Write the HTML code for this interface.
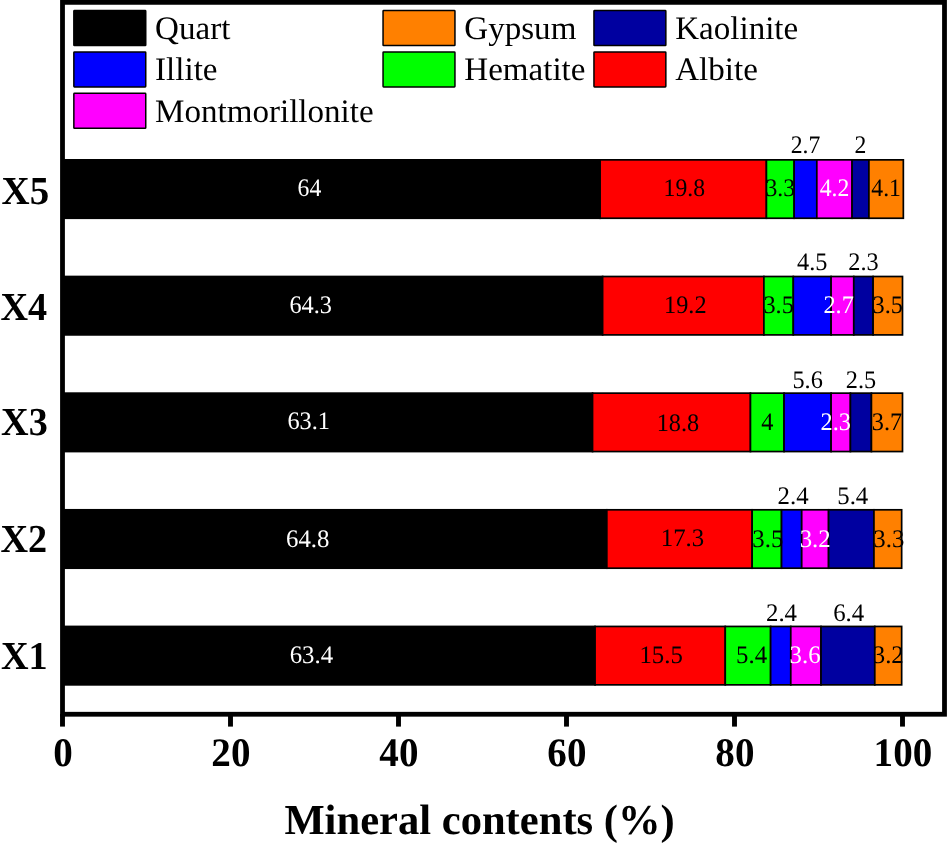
<!DOCTYPE html>
<html><head><meta charset="utf-8"><title>Mineral contents</title>
<style>html,body{margin:0;padding:0;background:#fff}body{width:947px;height:843px;overflow:hidden}svg{display:block;will-change:transform}text{font-family:"Liberation Serif","Times New Roman",serif;text-rendering:geometricPrecision}.b{font-weight:bold}</style></head><body>
<svg width="947" height="843" viewBox="0 0 947 843">
<rect x="0" y="0" width="947" height="843" fill="#fff"/>
<rect x="62.50" y="159.85" width="537.60" height="58.40" fill="#000000" stroke="#000" stroke-width="1.70"/>
<rect x="600.10" y="159.85" width="166.32" height="58.40" fill="#FF0000" stroke="#000" stroke-width="1.70"/>
<rect x="766.42" y="159.85" width="27.72" height="58.40" fill="#00FF00" stroke="#000" stroke-width="1.70"/>
<rect x="794.14" y="159.85" width="22.68" height="58.40" fill="#0000FF" stroke="#000" stroke-width="1.70"/>
<rect x="816.82" y="159.85" width="35.28" height="58.40" fill="#FF00FF" stroke="#000" stroke-width="1.70"/>
<rect x="852.10" y="159.85" width="16.80" height="58.40" fill="#0000A0" stroke="#000" stroke-width="1.70"/>
<rect x="868.90" y="159.85" width="34.44" height="58.40" fill="#FF8000" stroke="#000" stroke-width="1.70"/>
<text transform="translate(309.46 196.30) scale(0.9400 1)" font-size="25.20" text-anchor="middle" fill="#fff">64</text>
<text transform="translate(684.26 196.30) scale(0.9400 1)" font-size="25.20" text-anchor="middle" fill="#000">19.8</text>
<text transform="translate(780.28 196.30) scale(0.9400 1)" font-size="25.20" text-anchor="middle" fill="#000">3.3</text>
<text transform="translate(805.48 153.05) scale(0.9400 1)" font-size="25.20" text-anchor="middle" fill="#000">2.7</text>
<text transform="translate(834.46 196.30) scale(0.9400 1)" font-size="25.20" text-anchor="middle" fill="#fff">4.2</text>
<text transform="translate(860.50 153.05) scale(0.9400 1)" font-size="25.20" text-anchor="middle" fill="#000">2</text>
<text transform="translate(886.12 196.30) scale(0.9400 1)" font-size="25.20" text-anchor="middle" fill="#000">4.1</text>
<text transform="translate(49.10 203.95) scale(0.9830 1)" font-size="39.60" class="b" text-anchor="end">X5</text>
<rect x="62.50" y="276.50" width="540.12" height="58.40" fill="#000000" stroke="#000" stroke-width="1.70"/>
<rect x="602.62" y="276.50" width="161.28" height="58.40" fill="#FF0000" stroke="#000" stroke-width="1.70"/>
<rect x="763.90" y="276.50" width="29.40" height="58.40" fill="#00FF00" stroke="#000" stroke-width="1.70"/>
<rect x="793.30" y="276.50" width="37.80" height="58.40" fill="#0000FF" stroke="#000" stroke-width="1.70"/>
<rect x="831.10" y="276.50" width="22.68" height="58.40" fill="#FF00FF" stroke="#000" stroke-width="1.70"/>
<rect x="853.78" y="276.50" width="19.32" height="58.40" fill="#0000A0" stroke="#000" stroke-width="1.70"/>
<rect x="873.10" y="276.50" width="29.40" height="58.40" fill="#FF8000" stroke="#000" stroke-width="1.70"/>
<text transform="translate(310.72 312.95) scale(0.9650 1)" font-size="25.20" text-anchor="middle" fill="#fff">64.3</text>
<text transform="translate(685.26 312.95) scale(0.9650 1)" font-size="25.20" text-anchor="middle" fill="#000">19.2</text>
<text transform="translate(778.60 312.95) scale(0.9650 1)" font-size="25.20" text-anchor="middle" fill="#000">3.5</text>
<text transform="translate(812.20 269.70) scale(0.9650 1)" font-size="25.20" text-anchor="middle" fill="#000">4.5</text>
<text transform="translate(838.64 312.95) scale(0.9650 1)" font-size="25.20" text-anchor="middle" fill="#fff">2.7</text>
<text transform="translate(863.44 269.70) scale(0.9650 1)" font-size="25.20" text-anchor="middle" fill="#000">2.3</text>
<text transform="translate(887.80 312.95) scale(0.9650 1)" font-size="25.20" text-anchor="middle" fill="#000">3.5</text>
<text transform="translate(47.10 319.90) scale(0.9650 1)" font-size="39.60" class="b" text-anchor="end">X4</text>
<rect x="62.50" y="393.15" width="530.04" height="58.40" fill="#000000" stroke="#000" stroke-width="1.70"/>
<rect x="592.54" y="393.15" width="157.92" height="58.40" fill="#FF0000" stroke="#000" stroke-width="1.70"/>
<rect x="750.46" y="393.15" width="33.60" height="58.40" fill="#00FF00" stroke="#000" stroke-width="1.70"/>
<rect x="784.06" y="393.15" width="47.04" height="58.40" fill="#0000FF" stroke="#000" stroke-width="1.70"/>
<rect x="831.10" y="393.15" width="19.32" height="58.40" fill="#FF00FF" stroke="#000" stroke-width="1.70"/>
<rect x="850.42" y="393.15" width="21.00" height="58.40" fill="#0000A0" stroke="#000" stroke-width="1.70"/>
<rect x="871.42" y="393.15" width="31.08" height="58.40" fill="#FF8000" stroke="#000" stroke-width="1.70"/>
<text transform="translate(308.68 428.80) scale(0.9650 1)" font-size="25.20" text-anchor="middle" fill="#fff">63.1</text>
<text transform="translate(677.90 430.90) scale(0.9650 1)" font-size="25.20" text-anchor="middle" fill="#000">18.8</text>
<text transform="translate(767.26 429.60) scale(0.9650 1)" font-size="25.20" text-anchor="middle" fill="#000">4</text>
<text transform="translate(807.58 387.55) scale(0.9650 1)" font-size="25.20" text-anchor="middle" fill="#000">5.6</text>
<text transform="translate(835.76 429.60) scale(0.9650 1)" font-size="25.20" text-anchor="middle" fill="#fff">2.3</text>
<text transform="translate(860.92 387.55) scale(0.9650 1)" font-size="25.20" text-anchor="middle" fill="#000">2.5</text>
<text transform="translate(886.96 429.60) scale(0.9650 1)" font-size="25.20" text-anchor="middle" fill="#000">3.7</text>
<text transform="translate(47.80 435.15) scale(0.9650 1)" font-size="39.60" class="b" text-anchor="end">X3</text>
<rect x="62.50" y="509.80" width="544.32" height="58.40" fill="#000000" stroke="#000" stroke-width="1.70"/>
<rect x="606.82" y="509.80" width="145.32" height="58.40" fill="#FF0000" stroke="#000" stroke-width="1.70"/>
<rect x="752.14" y="509.80" width="29.40" height="58.40" fill="#00FF00" stroke="#000" stroke-width="1.70"/>
<rect x="781.54" y="509.80" width="20.16" height="58.40" fill="#0000FF" stroke="#000" stroke-width="1.70"/>
<rect x="801.70" y="509.80" width="26.88" height="58.40" fill="#FF00FF" stroke="#000" stroke-width="1.70"/>
<rect x="828.58" y="509.80" width="45.36" height="58.40" fill="#0000A0" stroke="#000" stroke-width="1.70"/>
<rect x="873.94" y="509.80" width="27.72" height="58.40" fill="#FF8000" stroke="#000" stroke-width="1.70"/>
<text transform="translate(307.72 547.25) scale(0.9850 1)" font-size="25.20" text-anchor="middle" fill="#fff">64.8</text>
<text transform="translate(682.48 545.75) scale(0.9850 1)" font-size="25.20" text-anchor="middle" fill="#000">17.3</text>
<text transform="translate(767.84 547.25) scale(0.9850 1)" font-size="25.20" text-anchor="middle" fill="#000">3.5</text>
<text transform="translate(793.12 504.00) scale(0.9850 1)" font-size="25.20" text-anchor="middle" fill="#000">2.4</text>
<text transform="translate(815.14 547.25) scale(0.9850 1)" font-size="25.20" text-anchor="middle" fill="#fff">3.2</text>
<text transform="translate(852.76 504.00) scale(0.9850 1)" font-size="25.20" text-anchor="middle" fill="#000">5.4</text>
<text transform="translate(888.80 547.25) scale(0.9850 1)" font-size="25.20" text-anchor="middle" fill="#000">3.3</text>
<text transform="translate(47.20 552.00) scale(0.9650 1)" font-size="39.60" class="b" text-anchor="end">X2</text>
<rect x="62.50" y="626.45" width="532.56" height="58.40" fill="#000000" stroke="#000" stroke-width="1.70"/>
<rect x="595.06" y="626.45" width="130.20" height="58.40" fill="#FF0000" stroke="#000" stroke-width="1.70"/>
<rect x="725.26" y="626.45" width="45.36" height="58.40" fill="#00FF00" stroke="#000" stroke-width="1.70"/>
<rect x="770.62" y="626.45" width="20.16" height="58.40" fill="#0000FF" stroke="#000" stroke-width="1.70"/>
<rect x="790.78" y="626.45" width="30.24" height="58.40" fill="#FF00FF" stroke="#000" stroke-width="1.70"/>
<rect x="821.02" y="626.45" width="53.76" height="58.40" fill="#0000A0" stroke="#000" stroke-width="1.70"/>
<rect x="874.78" y="626.45" width="26.88" height="58.40" fill="#FF8000" stroke="#000" stroke-width="1.70"/>
<text transform="translate(311.34 663.40) scale(0.9850 1)" font-size="25.20" text-anchor="middle" fill="#fff">63.4</text>
<text transform="translate(661.16 663.40) scale(0.9850 1)" font-size="25.20" text-anchor="middle" fill="#000">15.5</text>
<text transform="translate(751.54 663.40) scale(0.9850 1)" font-size="25.20" text-anchor="middle" fill="#000">5.4</text>
<text transform="translate(781.50 620.95) scale(0.9850 1)" font-size="25.20" text-anchor="middle" fill="#000">2.4</text>
<text transform="translate(805.10 663.40) scale(0.9850 1)" font-size="25.20" text-anchor="middle" fill="#fff">3.6</text>
<text transform="translate(848.70 620.95) scale(0.9850 1)" font-size="25.20" text-anchor="middle" fill="#000">6.4</text>
<text transform="translate(888.22 663.40) scale(0.9850 1)" font-size="25.20" text-anchor="middle" fill="#000">3.2</text>
<text transform="translate(47.60 669.35) scale(0.9650 1)" font-size="39.60" class="b" text-anchor="end">X1</text>
<rect x="62.5" y="2.35" width="882" height="711.9" fill="none" stroke="#000" stroke-width="4.8"/>
<rect x="60.05" y="714" width="4.9" height="12.6" fill="#000"/>
<text transform="translate(62.90 765.90) scale(0.9650 1)" font-size="40.50" class="b" text-anchor="middle">0</text>
<rect x="228.05" y="714" width="4.9" height="12.6" fill="#000"/>
<text transform="translate(230.90 765.90) scale(0.9650 1)" font-size="40.50" class="b" text-anchor="middle">20</text>
<rect x="396.05" y="714" width="4.9" height="12.6" fill="#000"/>
<text transform="translate(398.90 765.90) scale(0.9650 1)" font-size="40.50" class="b" text-anchor="middle">40</text>
<rect x="564.05" y="714" width="4.9" height="12.6" fill="#000"/>
<text transform="translate(566.90 765.90) scale(0.9650 1)" font-size="40.50" class="b" text-anchor="middle">60</text>
<rect x="732.05" y="714" width="4.9" height="12.6" fill="#000"/>
<text transform="translate(734.90 765.90) scale(0.9650 1)" font-size="40.50" class="b" text-anchor="middle">80</text>
<rect x="900.05" y="714" width="4.9" height="12.6" fill="#000"/>
<text transform="translate(902.90 765.90) scale(0.9650 1)" font-size="40.50" class="b" text-anchor="middle">100</text>
<text x="479.60" y="833.70" font-size="42.60" class="b" text-anchor="middle">Mineral contents (%)</text>
<rect x="73.85" y="10.55" width="71.9" height="35.0" rx="0.6" fill="#000000" stroke="#000" stroke-width="1.5"/>
<text transform="translate(155.10 39.00) scale(1.0080 1)" font-size="32.80">Quart</text>
<rect x="383.05" y="10.55" width="71.9" height="35.0" rx="0.6" fill="#FF8000" stroke="#000" stroke-width="1.5"/>
<text transform="translate(464.30 39.00) scale(1.0080 1)" font-size="32.80">Gypsum</text>
<rect x="593.95" y="10.55" width="71.9" height="35.0" rx="0.6" fill="#0000A0" stroke="#000" stroke-width="1.5"/>
<text transform="translate(675.20 39.00) scale(1.0080 1)" font-size="32.80">Kaolinite</text>
<rect x="73.85" y="51.95" width="71.9" height="35.0" rx="0.6" fill="#0000FF" stroke="#000" stroke-width="1.5"/>
<text transform="translate(155.10 80.40) scale(1.0080 1)" font-size="32.80">Illite</text>
<rect x="383.05" y="51.95" width="71.9" height="35.0" rx="0.6" fill="#00FF00" stroke="#000" stroke-width="1.5"/>
<text transform="translate(464.30 80.40) scale(1.0080 1)" font-size="32.80">Hematite</text>
<rect x="593.95" y="51.95" width="71.9" height="35.0" rx="0.6" fill="#FF0000" stroke="#000" stroke-width="1.5"/>
<text transform="translate(675.20 80.40) scale(1.0080 1)" font-size="32.80">Albite</text>
<rect x="73.85" y="93.35" width="71.9" height="35.0" rx="0.6" fill="#FF00FF" stroke="#000" stroke-width="1.5"/>
<text transform="translate(155.10 121.80) scale(1.0080 1)" font-size="32.80">Montmorillonite</text>
</svg></body></html>
